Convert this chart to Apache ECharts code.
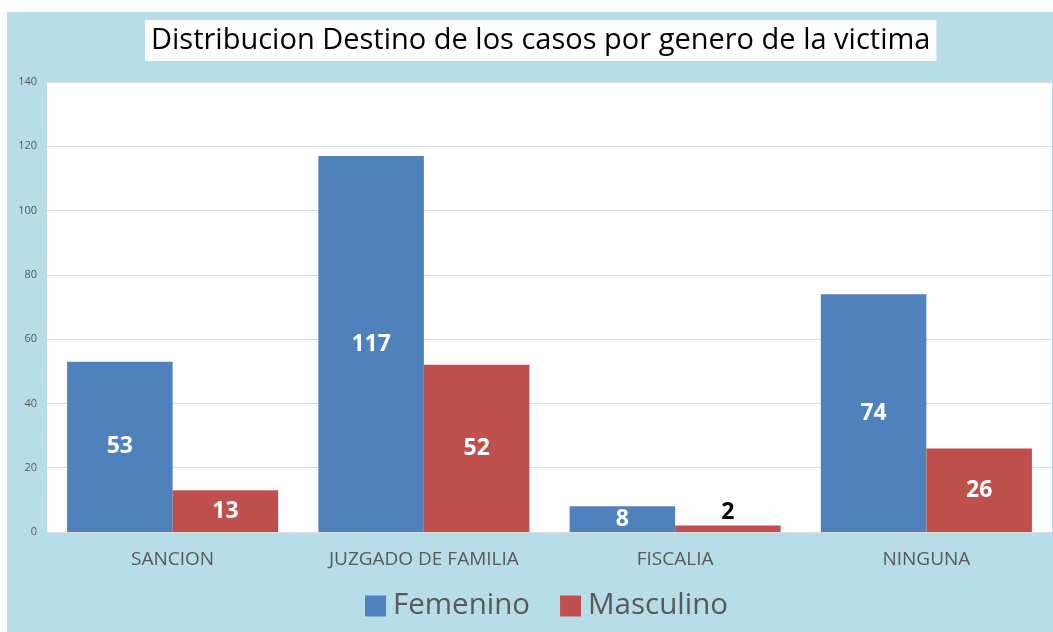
<!DOCTYPE html>
<html><head><meta charset="utf-8">
<script src="https://cdn.jsdelivr.net/npm/echarts@6/dist/echarts.min.js"></script>
<style>html,body{margin:0;padding:0;background:#fff}#c{width:1053px;height:632px}</style>
</head><body><div id="c"></div>
<script>
const categories = ['SANCION', 'JUZGADO DE FAMILIA', 'FISCALIA', 'NINGUNA'];
const femenino = [53, 117, 8, 74];
const masculino = [13, 52, 2, 26];
const seriesNames = ['Femenino', 'Masculino'];
const yTicks = [0, 20, 40, 60, 80, 100, 120, 140];

const chart = echarts.init(document.getElementById('c'));
const font = '"Open Sans", "Liberation Sans", sans-serif';
chart.setOption({
  backgroundColor: '#fff',
  animation: false,
  graphic: [
    {type: 'rect', shape: {x: 7, y: 12, width: 1046, height: 620}, style: {fill: '#b7dde8'}, z: -10, silent: true}
  ],
  title: {
    text: 'Distribucion Destino de los casos por genero de la victima',
    left: 145, top: 20,
    backgroundColor: '#fff',
    padding: [6, 6, 6, 6],
    textStyle: {fontFamily: font, fontSize: 29, fontWeight: 'normal', color: '#000'}
  },
  legend: {
    data: seriesNames,
    bottom: 6, left: 360,
    itemWidth: 21, itemHeight: 21, itemGap: 30,
    icon: 'rect',
    textStyle: {fontFamily: font, fontSize: 29.5, color: '#595959', padding: [0, 0, 0, 2]}
  },
  grid: {left: 47, right: 1, top: 82, bottom: 100, show: true, backgroundColor: '#fff', borderWidth: 0},
  xAxis: {
    type: 'category', data: categories,
    axisLine: {show: true, lineStyle: {color: '#d9d9d9'}},
    axisTick: {show: false},
    axisLabel: {fontFamily: font, fontSize: 19, color: '#595959', margin: 18}
  },
  yAxis: {
    type: 'value', min: yTicks[0], max: yTicks[yTicks.length - 1], interval: 20,
    axisLine: {show: false}, axisTick: {show: false},
    splitLine: {lineStyle: {color: '#d9d9d9'}},
    axisLabel: {fontFamily: font, fontSize: 11, color: '#595959', margin: 10}
  },
  series: [
    {
      name: seriesNames[0], type: 'bar', data: femenino,
      itemStyle: {color: '#4f81bd'},
      barGap: '0%', barCategoryGap: '16%',
      label: {show: true, position: 'inside', color: '#fff', fontFamily: font, fontWeight: 'bold', fontSize: 23}
    },
    {
      name: seriesNames[1], type: 'bar',
      data: masculino.map((v, i) => (v < 5 ? {value: v, label: {position: 'top', color: '#000', distance: 2}} : v)),
      itemStyle: {color: '#c0504d'},
      label: {show: true, position: 'inside', color: '#fff', fontFamily: font, fontWeight: 'bold', fontSize: 23}
    }
  ]
});
</script></body></html>
